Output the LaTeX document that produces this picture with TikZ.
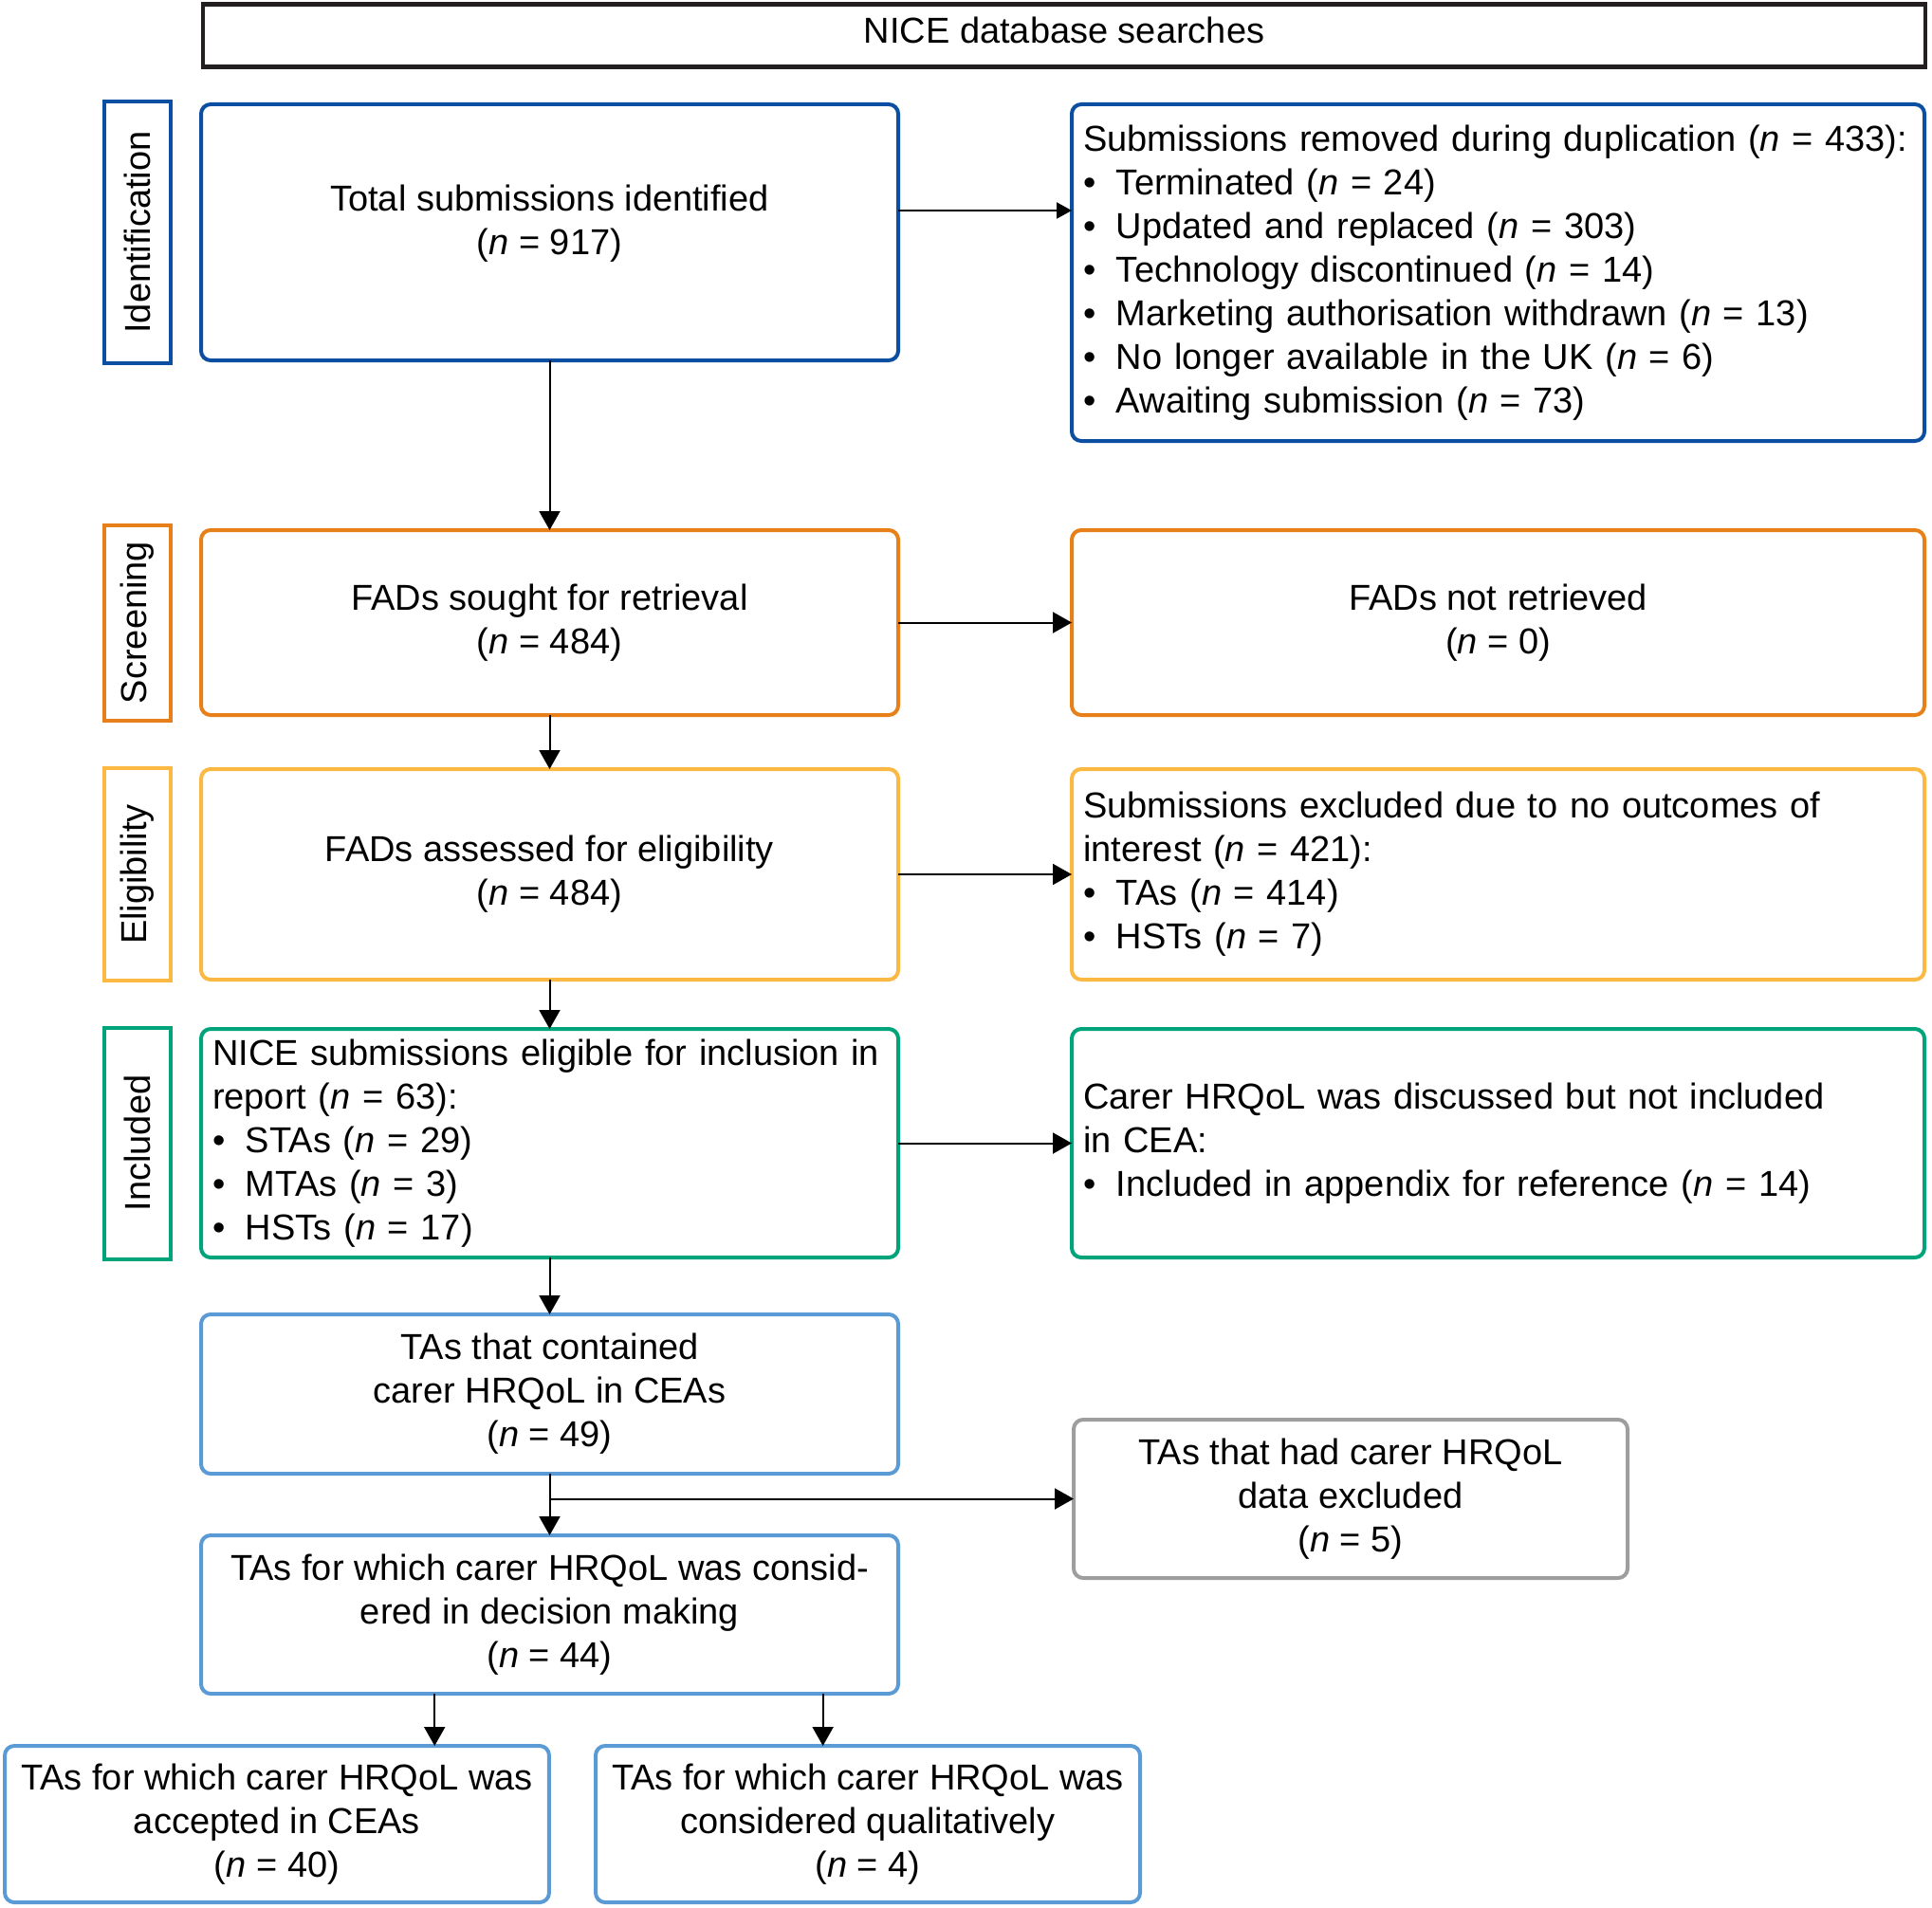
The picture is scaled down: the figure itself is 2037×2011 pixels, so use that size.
\documentclass[tikz,border=0pt]{standalone}
\usepackage{fontspec}
\setmainfont{Liberation Sans}
\usepackage{xcolor}
\usepackage{tikz}
\usetikzlibrary{arrows.meta,positioning,calc}

\definecolor{idblue}{HTML}{0B4EA2}
\definecolor{scrorange}{HTML}{E8801A}
\definecolor{eligyellow}{HTML}{FBB843}
\definecolor{incgreen}{HTML}{00A47B}
\definecolor{talblue}{HTML}{5B9BD5}
\definecolor{exgray}{HTML}{9E9E9E}
\definecolor{topblack}{HTML}{231F20}

\newcommand{\bul}{\makebox[17.5pt][l]{\textbullet}}
\newcommand{\nn}{\textit{n}}

\begin{document}
\begin{tikzpicture}[
    x=0.5pt, y=-0.5pt,
    font=\fontsize{19pt}{23pt}\selectfont,
    box/.style={rectangle, draw, rounded corners=5pt, line width=2pt, outer sep=0pt, minimum width=367.5pt, inner xsep=8.5pt, align=center},
    sidebox/.style={box, minimum width=449.5pt, inner xsep=6pt, text width=437.5pt, align=left},
    listbox/.style={box, inner xsep=6pt, text width=355.5pt, align=left},
    topbox/.style={rectangle, draw=topblack, line width=2.25pt, minimum width=908pt, minimum height=33pt, text depth=6pt},
    stage/.style={rectangle, draw, line width=2pt, outer sep=0pt, rotate=90, minimum height=35pt, anchor=south},
    arrow/.style={-{Triangle[length=10pt, width=11pt]}, line width=1pt},
    smallarrow/.style={-{Triangle[length=8pt, width=8.5pt]}, line width=1pt}
]
\useasboundingbox (0,0) rectangle (2037,2011);

% Database searches
\node[topbox] (nice) at (1122,37.5) {NICE database searches};

% Main column
\node[box, draw=idblue, minimum height=135pt, text depth=13pt] (total) at (579.5,245) {Total submissions identified\\(\nn{} = 917)};
\node[box, draw=scrorange, minimum height=97.5pt, below=89.5pt of total] (sought) {FADs sought for retrieval\\(\nn{} = 484)};
\node[box, draw=eligyellow, minimum height=111pt, below=28.5pt of sought] (assessed) {FADs assessed for eligibility\\(\nn{} = 484)};
\node[listbox, draw=incgreen, minimum height=120.5pt, below=26pt of assessed] (eligible) {NICE submissions eligible for inclusion in\\report (\nn{} = 63):\\\bul STAs (\nn{} = 29)\\\bul MTAs (\nn{} = 3)\\\bul HSTs (\nn{} = 17)};
\node[box, draw=talblue, minimum height=84pt, below=30pt of eligible] (contained) {TAs that contained\\carer HRQoL in CEAs\\(\nn{} = 49)};
\node[box, draw=talblue, minimum height=83.5pt, below=32.5pt of contained] (considered) {TAs for which carer HRQoL was consid-\\ered in decision making\\(\nn{} = 44)};

% Bottom row
\node[box, draw=talblue, minimum width=286pt, minimum height=82.5pt] (accepted) at (292,1923.5) {TAs for which carer HRQoL was\\accepted in CEAs\\(\nn{} = 40)};
\node[box, draw=talblue, minimum width=287pt, minimum height=82.5pt] (qualit) at (915,1923.5) {TAs for which carer HRQoL was\\considered qualitatively\\(\nn{} = 4)};

% Side column
\node[sidebox, draw=idblue, minimum height=177.5pt, right=91.5pt of total.north east, anchor=north west] (removed) {Submissions removed during duplication (\nn{} = 433):\\\bul Terminated (\nn{} = 24)\\\bul Updated and replaced (\nn{} = 303)\\\bul Technology discontinued (\nn{} = 14)\\\bul Marketing authorisation withdrawn (\nn{} = 13)\\\bul No longer available in the UK (\nn{} = 6)\\\bul Awaiting submission (\nn{} = 73)};
\node[box, draw=scrorange, minimum width=449.5pt, minimum height=97.5pt, right=91.5pt of sought] (notret) {FADs not retrieved\\(\nn{} = 0)};
\node[sidebox, draw=eligyellow, minimum height=111pt, right=91.5pt of assessed] (excluded) {Submissions excluded due to no outcomes of\\interest (\nn{} = 421):\\\bul TAs (\nn{} = 414)\\\bul HSTs (\nn{} = 7)};
\node[sidebox, draw=incgreen, minimum height=120.5pt, right=91.5pt of eligible] (discussed) {Carer HRQoL was discussed but not included\\in CEA:\\\bul Included in appendix for reference (\nn{} = 14)};
\node[box, draw=exgray, minimum width=292pt, minimum height=83.5pt] (dropped) at (1424,1580.5) {TAs that had carer HRQoL\\data excluded\\(\nn{} = 5)};

% Stage labels
\node[stage, draw=idblue, minimum width=137.5pt] (idlab) at ([xshift=-16pt]total.west) {Identification};
\node[stage, draw=scrorange, minimum width=103pt] (scrlab) at ([xshift=-16pt]sought.west) {Screening};
\node[stage, draw=eligyellow, minimum width=112pt] (eliglab) at ([xshift=-16pt]assessed.west) {Eligibility};
\node[stage, draw=incgreen, minimum width=122pt] (inclab) at ([xshift=-16pt]eligible.west) {Included};

% Arrows
\coordinate (idout) at ([yshift=11.5pt]total.east);
\draw[smallarrow] (idout) -- (idout -| removed.west);
\draw[arrow] (total) -- (sought);
\draw[arrow] (sought) -- (notret);
\draw[arrow] (sought) -- (assessed);
\draw[arrow] (assessed) -- (excluded);
\draw[arrow] (assessed) -- (eligible);
\draw[arrow] (eligible) -- (discussed);
\draw[arrow] (eligible) -- (contained);
\draw[arrow] (contained) -- (considered);
\coordinate (split) at (contained.south |- dropped.west);
\draw[arrow] (split) -- (dropped.west);
\coordinate (accin) at ($(considered.south west)!0.335!(considered.south east)$);
\coordinate (qualin) at ($(considered.south west)!0.892!(considered.south east)$);
\draw[arrow] (accin) -- (accin |- accepted.north);
\draw[arrow] (qualin) -- (qualin |- qualit.north);

\end{tikzpicture}
\end{document}
